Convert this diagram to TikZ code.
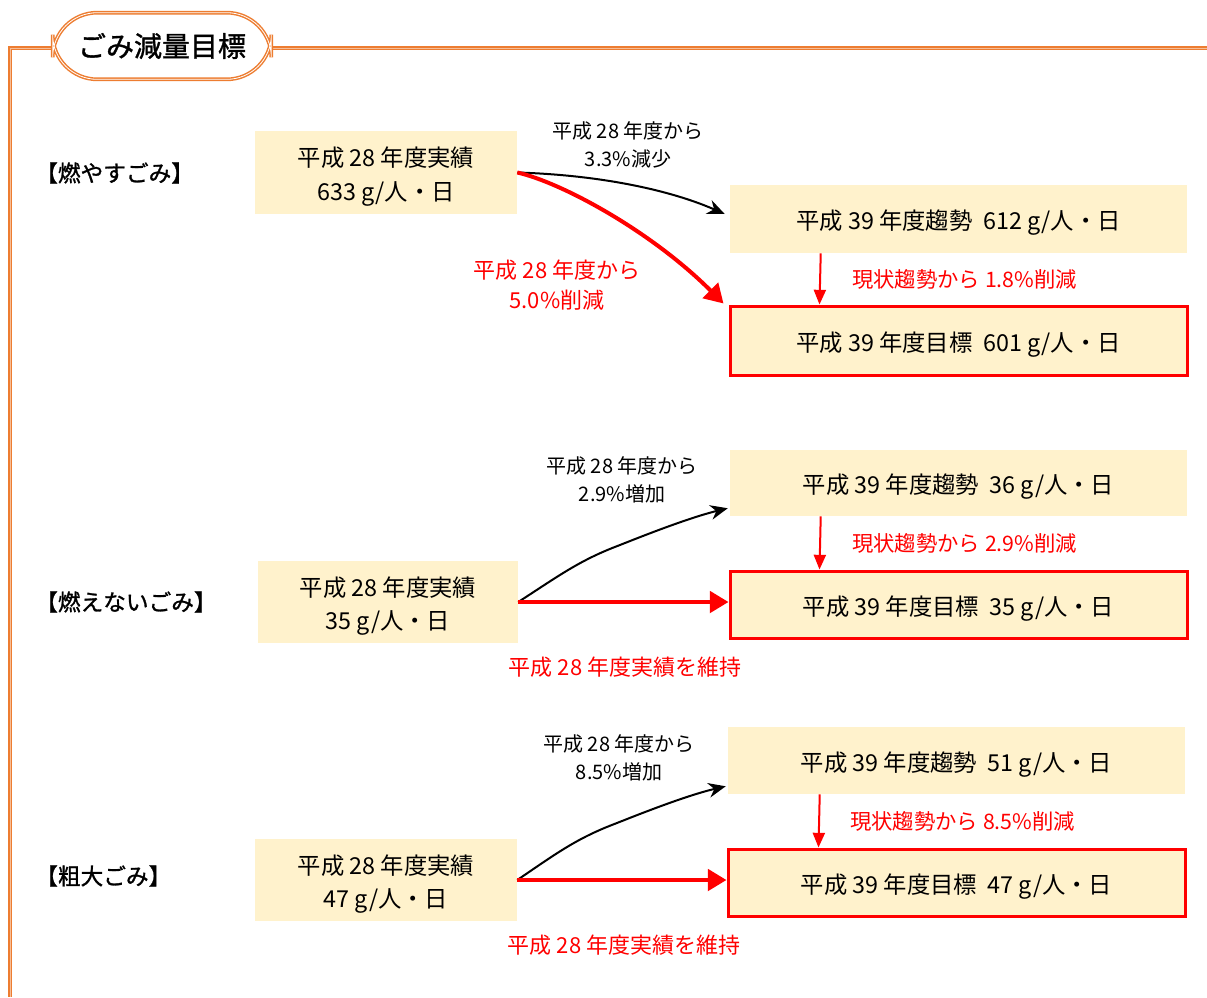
\documentclass[tikz,border=0pt]{standalone}
\usepackage{fontspec}
\setmainfont{Noto Sans CJK JP}
\newfontfamily\catfont[FakeBold=1.2]{Noto Sans CJK JP}
\usetikzlibrary{arrows.meta,fit,calc}
\definecolor{beige}{HTML}{FFF2CC}
\definecolor{frameor}{HTML}{ED7D31}
\definecolor{rd}{HTML}{FF0000}
\begin{document}
\begin{tikzpicture}[x=0.75pt,y=-0.75pt,
  box/.style={fill=beige, inner sep=0pt},
  goal/.style={box, draw=rd, line width=2.25pt},
  btext/.style={font=\fontsize{17.5}{25}\selectfont, align=center, inner sep=0pt, anchor=center, yshift=-3pt},
  cat/.style={font=\catfont\fontsize{17}{20}\selectfont, anchor=west, inner sep=0pt},
  lab/.style={font=\fontsize{15}{21}\selectfont, align=center, inner sep=0pt},
  rlab/.style={font=\fontsize{16.5}{23}\selectfont, align=center, inner sep=0pt, text=rd},
  mlab/.style={font=\fontsize{16}{20}\selectfont, inner sep=0pt, text=rd, anchor=west},
  blk/.style={line width=1.5pt, -{Stealth[length=13pt,width=11pt]}},
  redthick/.style={draw=rd, line width=3pt, -{Triangle[length=14pt,width=16pt]}},
  reddown/.style={draw=rd, line width=1.5pt, -{Triangle[length=11pt,width=9pt]}},
  frameline/.style={draw=frameor, double=frameor!50, double distance=0.5pt, line width=1pt}
]
\useasboundingbox (0,0) rectangle (1207,997);

% frame
\draw[frameline] (1207,48) -- (10,48) -- (10,997);
\node[draw=frameor, double=white, double distance=0.6pt, line width=1.1pt, fill=white,
      rounded corners=33.5pt, minimum width=164pt, minimum height=50pt] (title) at (162,46) {};
\node[font=\catfont\fontsize{21}{24}\selectfont, inner sep=0pt] (titletext) at (title.center) {ごみ減量目標};

% ---------- section 1 ----------
\node[cat] (c1) at (35,173) {【燃やすごみ】};
\node[box, fit={(255,131) (517,214)}] (A1) {};
\node[btext] (A1t) at (A1.center) {平成 28 年度実績\\633 g/人・日};
\node[box, fit={(730,185) (1187,253)}] (T1) {};
\node[btext] (T1t) at (T1.center) {平成 39 年度趨勢\ \ 612 g/人・日};
\node[goal, fit={(730,306) (1187,375)}] (G1) {};
\node[btext] (G1t) at (G1.center) {平成 39 年度目標\ \ 601 g/人・日};
\coordinate (t1in) at ($(T1.west)+(-5,-5)$);
\coordinate (g1in) at ($(G1.north west)+(-5,-1)$);
\draw[blk] (A1.east) .. controls (600,175) and (670,190) .. (t1in);
\draw[redthick] (A1.east) .. controls (560,182) and (650,230) .. (g1in);
\node[lab] (l1) at (628,145) {平成 28 年度から\\3.3\%減少};
\node[rlab] (r1) at (557,285) {平成 28 年度から\\5.0\%削減};
\coordinate (d1a) at ($(T1.south west)+(91,0)$);
\coordinate (d1b) at ($(G1.north west)+(91,0)$);
\draw[reddown] (d1a) -- (d1b);
\node[mlab] (m1) at (852,279) {現状趨勢から 1.8\%削減};

% ---------- section 2 ----------
\node[cat] (c2) at (35,602) {【燃えないごみ】};
\node[box, fit={(258,561) (518,643)}] (A2) {};
\node[btext] (A2t) at (A2.center) {平成 28 年度実績\\35 g/人・日};
\node[box, fit={(730,450) (1187,516)}] (T2) {};
\node[btext] (T2t) at (T2.center) {平成 39 年度趨勢\ \ 36 g/人・日};
\node[goal, fit={(730,571) (1187,638)}] (G2) {};
\node[btext] (G2t) at (G2.center) {平成 39 年度目標\ \ 35 g/人・日};
\coordinate (t2in) at ($(T2.south west)+(-2,-8)$);
\draw[blk] (A2.east) .. controls (560,575) and (580,560) .. (620,545) .. controls (670,525) and (700,515) .. (t2in);
\draw[redthick] (A2.east) -- (A2.east -| G2.west);
\node[lab] (l2) at (622,480) {平成 28 年度から\\2.9\%増加};
\node[rlab] (r2) at (625,667) {平成 28 年度実績を維持};
\coordinate (d2a) at ($(T2.south west)+(91,0)$);
\coordinate (d2b) at ($(G2.north west)+(91,0)$);
\draw[reddown] (d2a) -- (d2b);
\node[mlab] (m2) at (852,543) {現状趨勢から 2.9\%削減};

% ---------- section 3 ----------
\node[cat] (c3) at (35,876) {【粗大ごみ】};
\node[box, fit={(255,839) (517,921)}] (A3) {};
\node[btext] (A3t) at (A3.center) {平成 28 年度実績\\47 g/人・日};
\node[box, fit={(728,727) (1185,794)}] (T3) {};
\node[btext] (T3t) at (T3.center) {平成 39 年度趨勢\ \ 51 g/人・日};
\node[goal, fit={(728,849) (1185,916)}] (G3) {};
\node[btext] (G3t) at (G3.center) {平成 39 年度目標\ \ 47 g/人・日};
\coordinate (t3in) at ($(T3.south west)+(-2,-8)$);
\draw[blk] (A3.east) .. controls (557,853) and (577,838) .. (617,823) .. controls (667,803) and (697,793) .. (t3in);
\draw[redthick] (A3.east) -- (A3.east -| G3.west);
\node[lab] (l3) at (619,758) {平成 28 年度から\\8.5\%増加};
\node[rlab] (r3) at (624,945) {平成 28 年度実績を維持};
\coordinate (d3a) at ($(T3.south west)+(92,0)$);
\coordinate (d3b) at ($(G3.north west)+(92,0)$);
\draw[reddown] (d3a) -- (d3b);
\node[mlab] (m3) at (850,821) {現状趨勢から 8.5\%削減};
\end{tikzpicture}
\end{document}
